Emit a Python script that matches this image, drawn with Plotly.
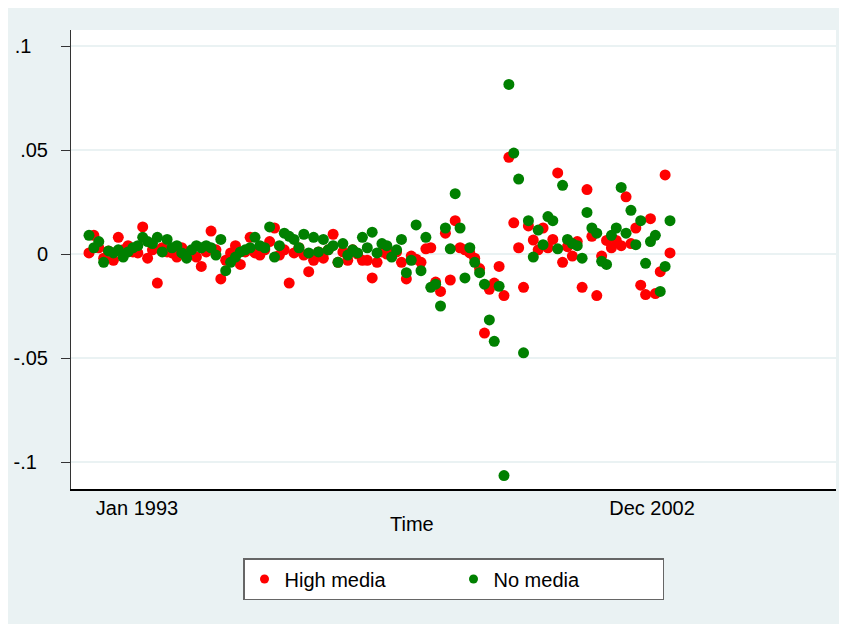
import plotly.graph_objects as go

# ---- data -------------------------------------------------------------
t = list(range(120))  # monthly observation index

high_media = [
    0.0005, 0.009, 0.003, -0.002, 0.0015, -0.003, 0.008, 0.002, 0.004, 0.001,
    0.0005, 0.013, -0.002, 0.002, -0.014, 0.003, 0.001, 0.0005, -0.0015, 0.003,
    0.001, 0.0, -0.0015, -0.006, 0.001, 0.011, 0.002, -0.012, -0.003, 0.0005,
    0.004, -0.005, 0.001, 0.008, 0.0005, -0.0005, 0.002, 0.006, 0.0125, -0.0005,
    0.002, -0.014, 0.0005, 0.003, -0.0005, -0.0085, -0.003, 0.001, -0.002, 0.002,
    0.0095, -0.004, 0.001, -0.003, 0.002, 0.0, -0.003, -0.003, -0.0115, -0.004,
    0.001, 0.0, 0.0005, 0.001, -0.004, -0.012, -0.001, -0.0025, -0.004, 0.0025,
    0.003, -0.0135, -0.018, 0.010, -0.0125, 0.016, 0.003, 0.002, 0.0005, -0.002,
    -0.007, -0.038, -0.017, -0.014, -0.006, -0.020, 0.0465, 0.015, 0.003, -0.016,
    0.0135, 0.0067, 0.002, 0.0125, 0.003, 0.007, 0.039, -0.004, 0.0035, -0.001,
    0.006, -0.016, 0.031, 0.0085, -0.020, -0.001, 0.0065, 0.003, 0.0065, 0.004,
    0.0275, 0.005, 0.0125, -0.015, -0.0195, 0.017, -0.019, -0.0085, 0.038, 0.0005,
]

no_media = [
    0.009, 0.003, 0.006, -0.004, 0.0015, 0.0005, 0.002, -0.0015, 0.001, 0.003,
    0.004, 0.008, 0.006, 0.005, 0.008, 0.001, 0.007, 0.003, 0.004, 0.0005,
    -0.002, 0.002, 0.004, 0.003, 0.004, 0.003, -0.0005, 0.007, -0.008, -0.004,
    -0.0015, 0.001, 0.002, 0.003, 0.008, 0.004, 0.003, 0.013, -0.0015, 0.004,
    0.010, 0.0085, 0.007, 0.003, 0.0095, 0.0005, 0.008, 0.001, 0.007, 0.002,
    0.004, -0.004, 0.005, -0.0005, 0.002, 0.0005, 0.008, 0.003, 0.0105, 0.0005,
    0.005, 0.004, -0.0015, 0.002, 0.007, -0.009, -0.003, 0.014, -0.008, 0.008,
    -0.016, -0.0145, -0.025, 0.0125, 0.0025, 0.029, 0.0125, -0.0115, 0.003, -0.004,
    -0.009, -0.0145, -0.0317, -0.042, -0.0155, -0.1065, 0.0815, 0.0485, 0.036, -0.0475,
    0.016, -0.0015, 0.0115, 0.0045, 0.018, 0.016, 0.0025, 0.033, 0.007, 0.005,
    0.004, -0.002, 0.020, 0.0125, 0.010, -0.0035, -0.005, 0.009, 0.0125, 0.032,
    0.010, 0.021, 0.0045, 0.016, -0.0045, 0.006, 0.009, -0.018, -0.006, 0.016,
]

x_tick_pos = [9.83, 115.32]
x_tick_text = ["Jan 1993", "Dec 2002"]
y_tick_vals = [-0.1, -0.05, 0, 0.05, 0.1]
NB = "\u00a0"
y_tick_text = ["-.1" + NB * 2, "-.05", "0", ".05", ".1" + NB * 3]

RED = "#FF0000"
GREEN = "#008000"
BG = "#EAF2F3"
FONT = "Liberation Sans, Arial, sans-serif"

# ---- figure -----------------------------------------------------------
fig = go.Figure()
fig.add_trace(go.Scatter(x=t, y=high_media, mode="markers", name="High media",
                         marker=dict(color=RED, size=11, line=dict(width=0)),
                         showlegend=False))
fig.add_trace(go.Scatter(x=t, y=no_media, mode="markers", name="No media",
                         marker=dict(color=GREEN, size=11, line=dict(width=0)),
                         showlegend=False))
# legend entries (smaller symbols like the original key)
fig.add_trace(go.Scatter(x=[None], y=[None], mode="markers", name="High media",
                         marker=dict(color=RED, size=9)))
fig.add_trace(go.Scatter(x=[None], y=[None], mode="markers", name="No media",
                         marker=dict(color=GREEN, size=9)))

W, H = 847, 624
OFF = 8  # page body margin
L, T = 63, 22
R = W - (836 - OFF)
B = H - (489 - OFF)
pw, ph = W - L - R, H - T - B


def px(X):
    return (X - OFF - L) / pw


def py(Y):
    return (H - B - (Y - OFF)) / ph


fig.update_layout(
    width=W, height=H,
    margin=dict(l=L, r=R, t=T, b=B, pad=0, autoexpand=False),
    paper_bgcolor=BG, plot_bgcolor="white",
    font=dict(family=FONT, size=20, color="black"),
    xaxis=dict(range=[-3.687, 153.0], tickvals=x_tick_pos, ticktext=x_tick_text,
               showgrid=False, zeroline=False, showline=True, linecolor="black",
               linewidth=1.5, ticks="", tickfont=dict(size=20), automargin=False),
    yaxis=dict(range=[-0.11298, 0.10769], tickvals=y_tick_vals, ticktext=y_tick_text,
               showgrid=True, gridcolor=BG, gridwidth=1.5, zeroline=False,
               showline=True, linecolor="#333333", linewidth=1,
               ticks="outside", ticklen=9, tickcolor="#333333", tickwidth=1,
               ticklabelstandoff=9, tickfont=dict(size=20), automargin=False),
    legend=dict(orientation="h", x=0.5, xanchor="center", y=py(558), yanchor="top",
                bgcolor="white", bordercolor="#666666", borderwidth=1.5,
                font=dict(size=20), entrywidth=164, entrywidthmode="pixels"),
    annotations=[dict(text="Time", x=px(412), y=py(524), xref="paper", yref="paper",
                      showarrow=False, xanchor="center", yanchor="middle",
                      font=dict(size=20))],
)

fig.write_html("out.html")
